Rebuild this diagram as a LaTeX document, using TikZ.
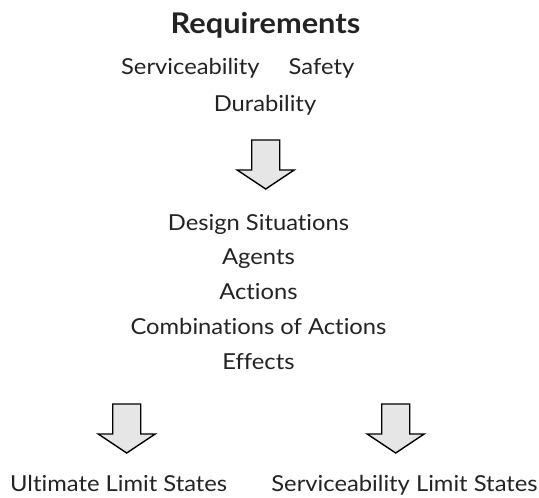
\documentclass[tikz,border=0pt]{standalone}
\usepackage{fontspec}
\setmainfont{Lato}[FakeStretch=1.08, Ligatures=NoCommon]
\definecolor{arrowgray}{RGB}{230,230,230}
\definecolor{textgray}{RGB}{35,35,35}
\tikzset{
  pics/downarrow/.style={code={
    \draw[fill=arrowgray, line width=1.4pt, line join=miter]
      (-14,24.5) -- (14,24.5) -- (14,-5.5) -- (28.5,-5.5)
      -- (0,-24.5) -- (-28.5,-5.5) -- (-14,-5.5) -- cycle;}}
}
\begin{document}
\begin{tikzpicture}[x=1pt, y=1pt,
  every node/.style = {inner sep=0pt, anchor=base, text=textgray,
    font=\fontsize{22}{26}\selectfont}]
  \useasboundingbox (0,0) rectangle (539,-498);
  % requirements
  \node[font=\fontsize{28.5}{32}\selectfont\bfseries] (req) at (265.5,-33) {Requirements};
  \node (serv) at (190.4,-74) {Serviceability};
  \node (safe) at (321.5,-74) {Safety};
  \node (dur) at (265,-111.5) {Durability};
  \pic at (265.7,-164.5) {downarrow};
  % design basis
  \foreach \t [count=\i] in {Design Situations, Agents, Actions,
      Combinations of Actions, Effects}
    \node (mid\i) at (258.5,{-230-34.8*(\i-1)}) {\t};
  \pic at (126.7,-428.5) {downarrow};
  \pic at (395.7,-428.5) {downarrow};
  % limit states
  \node (uls) at (118.7,-491) {Ultimate Limit States};
  \node (sls) at (404.5,-491) {Serviceability Limit States};
\end{tikzpicture}
\end{document}
